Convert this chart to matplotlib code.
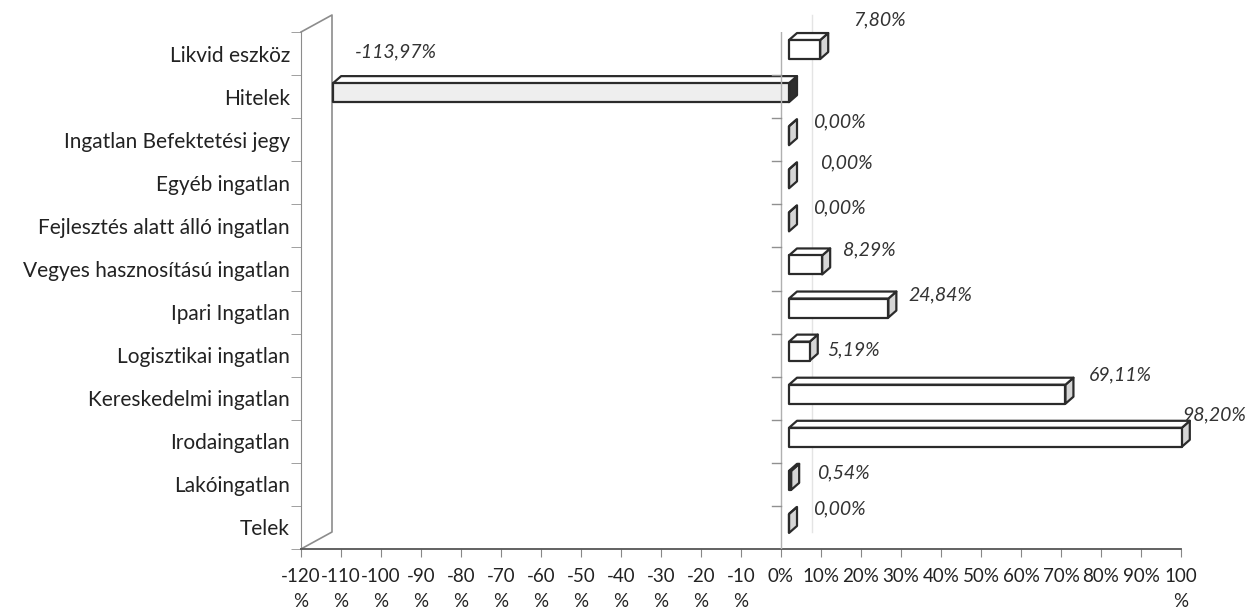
import matplotlib.pyplot as plt
from matplotlib.patches import Polygon

plt.rcParams['font.family'] = ['Lato', 'DejaVu Sans']

categories = ['Likvid eszköz', 'Hitelek', 'Ingatlan Befektetési jegy', 'Egyéb ingatlan',
              'Fejlesztés alatt álló ingatlan', 'Vegyes hasznosítású ingatlan',
              'Ipari Ingatlan', 'Logisztikai ingatlan', 'Kereskedelmi ingatlan',
              'Irodaingatlan', 'Lakóingatlan', 'Telek']
values = [7.80, -113.97, 0.00, 0.00, 0.00, 8.29, 24.84, 5.19, 69.11, 98.20, 0.54, 0.00]

xticks = list(range(-120, 101, 10))
xtick_labels = [f'{t}\n%' if (t < 0 or t == 100) else f'{t}%' for t in xticks]

# label offsets in pixels (right, up) from the end of each bar
label_offsets = [(33, 30), (22, 41), (24, 14), (31, 16), (24, 14), (21, 15),
                 (20, 13), (17, 1), (23, 19), (0, 22), (26, 8), (24, 15)]

W, H = 1256, 616
fig = plt.figure(figsize=(W / 100, H / 100), dpi=100)
ax = fig.add_axes([301 / W, 67 / H, 880 / W, 517 / H])
ax.set_xlim(-120, 100)
ax.set_ylim(len(categories) - 0.5, -0.5)

# pixel -> data unit helpers for the fake 3d depth
PX = 220 / 880
PY = len(categories) / 517


def px(dx, dy):
    return dx * PX, -dy * PY


wall_dx, wall_dy = px(31, 17)
bar_sx, bar_sy = px(8, 4)
bar_dx, bar_dy = px(8, 7)
half_h = 9.5 * PY

# left wall
top, bot = -0.5, len(categories) - 0.5
ax.plot([-120, -120 + wall_dx, -120 + wall_dx, -120],
        [top, top + wall_dy, bot + wall_dy, bot], color='#8c8c8c', lw=1.2,
        clip_on=False, zorder=2)
# back wall gridline at zero
ax.plot([wall_dx, wall_dx], [top + wall_dy, bot + wall_dy], color='#e4e4e4',
        lw=1.0, clip_on=False, zorder=1)
# category axis at zero
ax.plot([0, 0], [top, bot], color='#b0b0b0', lw=1.0, zorder=5)
for k in range(1, len(categories)):
    ax.plot([-9 * PX, 0], [k - 0.5, k - 0.5], color='#909090', lw=1.0, zorder=5)

for i, v in enumerate(values):
    lo, hi = sorted((bar_sx, v + bar_sx))
    yc = i + bar_sy
    yt, yb = yc - half_h, yc + half_h
    front = [(lo, yt), (hi, yt), (hi, yb), (lo, yb)]
    topf = [(lo, yt), (hi, yt), (hi + bar_dx, yt + bar_dy), (lo + bar_dx, yt + bar_dy)]
    side = [(hi, yt), (hi + bar_dx, yt + bar_dy), (hi + bar_dx, yb + bar_dy), (hi, yb)]
    neg = v < 0
    for pts, fc in ((side, '#2e2e2e' if neg else '#d6d6d6'),
                    (topf, '#ffffff'),
                    (front, '#eeeeee' if neg else '#ffffff')):
        ax.add_patch(Polygon(pts, closed=True, facecolor=fc, edgecolor='#2b2b2b',
                             lw=1.6, joinstyle='round', zorder=4, clip_on=False))
    xe = v + bar_sx
    ox, oy = label_offsets[i]
    ax.annotate(f'{v:.2f}'.replace('.', ',') + '%', (xe, yc),
                xytext=(ox, oy), textcoords='offset pixels', ha='left', va='center',
                fontsize=14, style='italic', color='#333333', zorder=6,
                annotation_clip=False)

for s in ('top', 'right'):
    ax.spines[s].set_visible(False)
ax.spines['left'].set_color('#8c8c8c')
ax.spines['bottom'].set_color('#555555')
ax.spines['bottom'].set_linewidth(1.3)

ax.set_xticks(xticks, xtick_labels)
ax.tick_params(axis='x', direction='out', length=6, color='#888888', pad=8,
               labelsize=13.5, labelcolor='#222222')
for lab in ax.get_xticklabels():
    lab.set_linespacing(1.55)

ax.set_yticks(range(len(categories)), categories)
ax.set_yticks([k - 0.5 for k in range(len(categories) + 1)], minor=True)
ax.tick_params(axis='y', which='major', length=0, pad=8, labelsize=15,
               labelcolor='#222222')
ax.tick_params(axis='y', which='minor', length=7, color='#909090')

fig.savefig('out.png', dpi=100)
